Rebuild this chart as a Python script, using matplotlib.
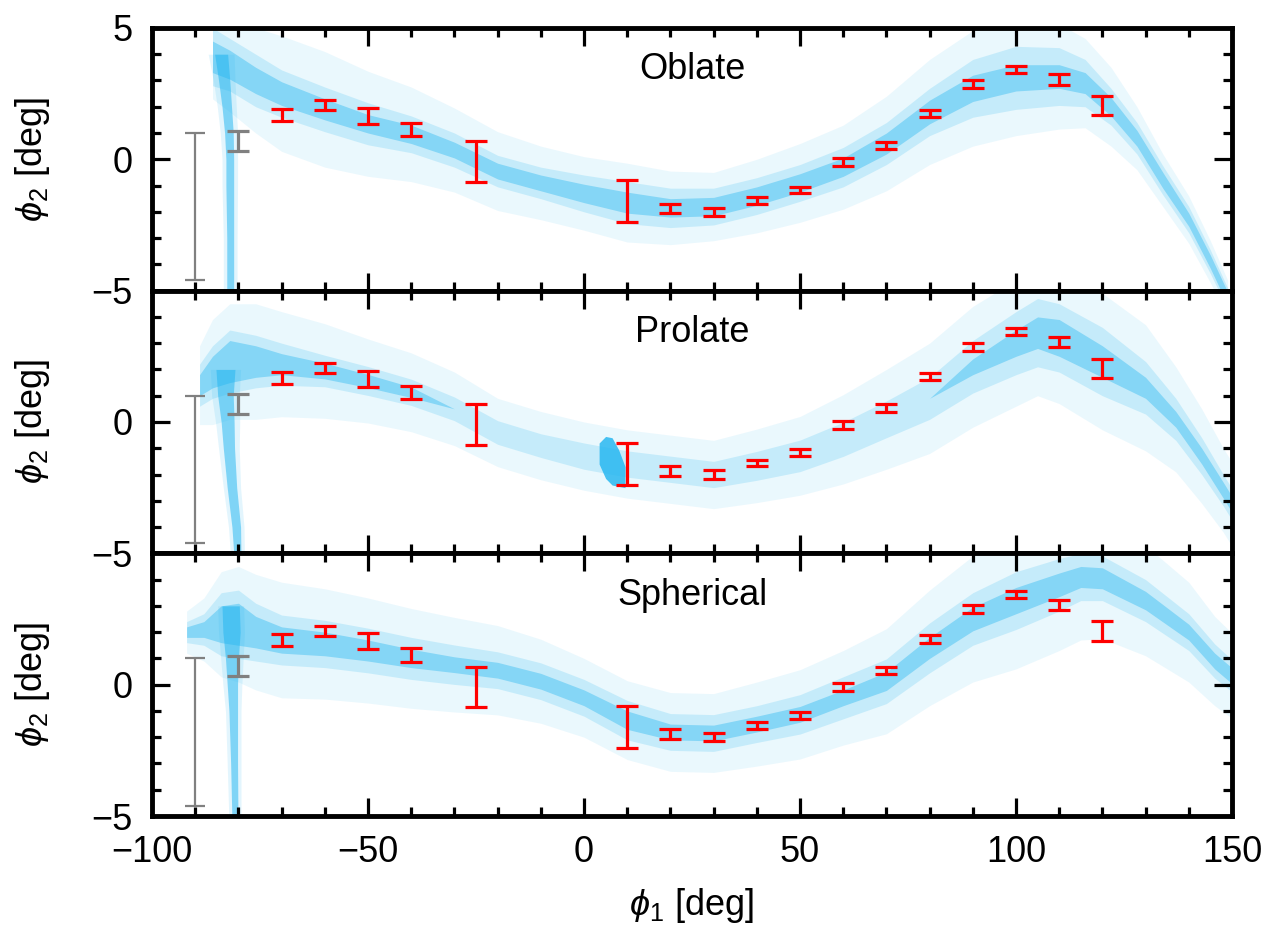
import numpy as np
import matplotlib
matplotlib.use("Agg")
import matplotlib.pyplot as plt

plt.rcParams['font.family'] = ['Liberation Sans', 'DejaVu Sans']
plt.rcParams['mathtext.fontset'] = 'custom'
plt.rcParams['mathtext.rm'] = 'Liberation Sans'
plt.rcParams['mathtext.it'] = 'Liberation Sans:italic'
plt.rcParams['font.size'] = 26

# observed stream track (red) and reference points (grey)
obs_phi1 = [-70, -60, -50, -40, -25, 10, 20, 30, 40, 50, 60, 70, 80, 90, 100, 110, 120]
obs_phi2 = [1.69, 2.05, 1.65, 1.13, -0.09, -1.6, -1.87, -2.0, -1.56, -1.17, -0.1, 0.53, 1.74, 2.87, 3.43, 3.04, 2.04]
obs_err = [0.23, 0.19, 0.3, 0.25, 0.77, 0.8, 0.18, 0.16, 0.13, 0.13, 0.15, 0.14, 0.14, 0.15, 0.13, 0.2, 0.37]
ref_phi1 = [-90, -80]
ref_lo = [-4.6, 0.32]
ref_hi = [1.0, 1.08]

# simulated particle clouds, read as track centre + half widths (core / body / halo)
obl_phi1 = [-86, -82, -76, -70, -60, -50, -40, -30, -20, -10, 0, 10, 20, 30, 40, 50, 60, 70, 80, 90, 100, 110, 116, 122, 128, 134, 140, 145, 149]
obl_mid = [3.9, 3.6, 3.0, 2.5, 1.9, 1.35, 0.95, 0.35, -0.45, -0.9, -1.3, -1.65, -1.85, -1.8, -1.4, -0.9, -0.3, 0.6, 1.8, 2.7, 3.1, 3.15, 2.9, 2.0, 0.8, -0.8, -2.3, -3.9, -5.3]
obl_core = [0.6, 0.55, 0.5, 0.45, 0.4, 0.35, 0.35, 0.3, 0.3, 0.3, 0.35, 0.4, 0.35, 0.35, 0.35, 0.35, 0.35, 0.4, 0.45, 0.5, 0.5, 0.45, 0.4, 0.35, 0.3, 0.3, 0.25, 0.25, 0.25]
obl_body = [1.1, 1.0, 1.0, 0.9, 0.85, 0.8, 0.7, 0.65, 0.6, 0.6, 0.7, 0.8, 0.75, 0.7, 0.7, 0.7, 0.75, 0.8, 0.9, 1.1, 1.2, 1.1, 0.9, 0.7, 0.6, 0.55, 0.5, 0.45, 0.4]
obl_halo = [1.6, 1.8, 2.0, 2.2, 2.2, 2.0, 1.8, 1.6, 1.5, 1.4, 1.4, 1.5, 1.4, 1.3, 1.4, 1.5, 1.6, 1.8, 2.0, 2.2, 2.2, 2.0, 1.7, 1.5, 1.2, 1.0, 0.9, 0.8, 0.7]
obl_br_phi2 = [-5.2, -3, -1, 0, 1, 2, 3, 4]
obl_br_phi1 = [-81.9, -81.9, -82.0, -82.0, -82.2, -82.7, -83.3, -84.0]
obl_br_core = [0.8, 0.8, 0.9, 0.9, 1.0, 1.1, 1.3, 1.5]
obl_br_halo = [1.6, 1.6, 1.8, 1.8, 2.0, 2.2, 2.5, 3.0]

pro_phi1 = [-89, -86, -82, -76, -70, -60, -50, -40, -30, -20, -10, 0, 10, 20, 30, 40, 50, 60, 70, 80, 90, 100, 105, 110, 120, 130, 137, 143, 148, 151]
pro_mid = [1.4, 1.9, 2.3, 2.3, 2.2, 1.94, 1.56, 1.13, 0.5, -0.4, -0.9, -1.3, -1.6, -1.8, -2.0, -1.67, -1.29, -0.66, 0.1, 0.9, 2.1, 3.0, 3.4, 3.2, 2.3, 1.3, 0.1, -1.3, -2.6, -3.4]
pro_core = [0.4, 0.6, 0.8, 0.6, 0.4, 0.3, 0.25, 0.2, 0, 0, 0, 0, 0, 0, 0, 0, 0, 0, 0, 0, 0.3, 0.5, 0.6, 0.7, 0.6, 0.4, 0.3, 0.3, 0.3, 0.3]
pro_body = [0.8, 1.0, 1.2, 1.0, 0.8, 0.6, 0.55, 0.5, 0.45, 0.45, 0.45, 0.5, 0.5, 0.5, 0.5, 0.55, 0.6, 0.65, 0.7, 0.8, 1.0, 1.2, 1.3, 1.3, 1.3, 1.0, 0.8, 0.7, 0.6, 0.6]
pro_halo = [1.5, 2.0, 2.2, 2.2, 2.0, 1.8, 1.6, 1.5, 1.4, 1.3, 1.3, 1.3, 1.3, 1.3, 1.3, 1.4, 1.5, 1.7, 1.9, 2.1, 2.3, 2.4, 2.4, 2.5, 2.6, 2.4, 2.0, 1.8, 1.6, 1.6]
pro_br_phi2 = [-5.2, -4, -2.5, -1, 0, 1, 2]
pro_br_phi1 = [-80.2, -80.5, -81.5, -82.2, -82.5, -83.0, -83.0]
pro_br_core = [0.8, 1.0, 1.1, 1.3, 1.5, 1.8, 2.2]
pro_br_halo = [1.6, 1.8, 2.0, 2.4, 2.8, 3.2, 3.5]
pro_blob_phi1 = [3.5, 5, 6.5, 8, 9.5]
pro_blob_phi2 = [-1.2, -1.35, -1.5, -1.75, -2.1]
pro_blob_hw = [0.4, 0.8, 0.9, 0.7, 0.4]

sph_phi1 = [-92, -88, -84, -80, -76, -70, -60, -50, -40, -30, -20, -10, 0, 10, 20, 30, 40, 50, 60, 70, 80, 90, 100, 110, 115, 120, 130, 140, 146, 151]
sph_mid = [2.0, 2.1, 2.3, 2.3, 2.0, 1.7, 1.55, 1.3, 1.0, 0.76, 0.55, 0.13, -0.5, -1.35, -1.8, -1.84, -1.5, -1.13, -0.5, 0.13, 1.4, 2.5, 3.2, 3.8, 4.1, 4.05, 3.2, 2.0, 0.9, 0.2]
sph_core = [0.2, 0.3, 0.7, 0.8, 0.6, 0.5, 0.45, 0.4, 0.35, 0.3, 0.3, 0.3, 0.3, 0.35, 0.3, 0.3, 0.3, 0.3, 0.3, 0.35, 0.4, 0.45, 0.5, 0.45, 0.4, 0.4, 0.35, 0.3, 0.3, 0.3]
sph_body = [0.4, 0.6, 1.2, 1.3, 1.1, 0.95, 0.9, 0.85, 0.8, 0.75, 0.7, 0.7, 0.7, 0.75, 0.7, 0.7, 0.7, 0.75, 0.8, 0.85, 0.95, 1.0, 1.1, 1.0, 0.9, 0.85, 0.8, 0.7, 0.65, 0.6]
sph_halo = [0.8, 1.2, 2.0, 2.2, 2.2, 2.2, 2.1, 2.0, 1.9, 1.8, 1.7, 1.6, 1.5, 1.5, 1.5, 1.5, 1.6, 1.7, 1.8, 2.0, 2.2, 2.4, 2.6, 2.5, 2.4, 2.3, 2.1, 1.9, 1.7, 1.6]
sph_br_phi2 = [-5.2, -3, -1, 0, 1, 2, 3]
sph_br_phi1 = [-80.8, -81.0, -81.2, -81.4, -81.5, -81.6, -81.8]
sph_br_core = [0.7, 0.8, 1.0, 1.2, 1.5, 2.0, 2.0]
sph_br_halo = [1.4, 1.6, 1.8, 2.2, 2.6, 3.0, 3.0]

names = ['Oblate', 'Prolate', 'Spherical']
cloud = '#1DB4F0'

panels = [
    (obl_phi1, obl_mid, obl_core, obl_body, obl_halo, obl_br_phi2, obl_br_phi1, obl_br_core, obl_br_halo),
    (pro_phi1, pro_mid, pro_core, pro_body, pro_halo, pro_br_phi2, pro_br_phi1, pro_br_core, pro_br_halo),
    (sph_phi1, sph_mid, sph_core, sph_body, sph_halo, sph_br_phi2, sph_br_phi1, sph_br_core, sph_br_halo),
]

fig, axes = plt.subplots(3, 1, figsize=(12.69, 9.31), dpi=100, sharex=True)
fig.subplots_adjust(left=0.1198, right=0.9708, top=0.970, bottom=0.1235, hspace=0)

for i, ax in enumerate(axes):
    x, mid, core, body, halo, by, bx, bcore, bhalo = [np.array(a, dtype=float) for a in panels[i]]
    # stream cloud
    ax.fill_between(x, mid - halo, mid + halo, color=cloud, alpha=0.09, lw=0)
    ax.fill_between(x, mid - body, mid + body, color=cloud, alpha=0.18, lw=0)
    ax.fill_between(x, mid - core, mid + core, color=cloud, alpha=0.38, lw=0)
    # near-vertical branch
    ax.fill_betweenx(by, bx - bhalo, bx + bhalo, color=cloud, alpha=0.12, lw=0)
    ax.fill_betweenx(by, bx - bcore, bx + bcore, color=cloud, alpha=0.5, lw=0)
    if i == 1:
        bp = np.array(pro_blob_phi1)
        bc = np.array(pro_blob_phi2)
        bw = np.array(pro_blob_hw)
        ax.fill_between(bp, bc - bw, bc + bw, color=cloud, alpha=0.8, lw=0)

    # observations
    ax.errorbar(obs_phi1, obs_phi2, yerr=obs_err, fmt='none', ecolor='red',
                elinewidth=2.3, capsize=8, capthick=2.3, zorder=5)
    ax.errorbar(ref_phi1[0], (ref_lo[0] + ref_hi[0]) / 2, yerr=(ref_hi[0] - ref_lo[0]) / 2,
                fmt='none', ecolor='gray', elinewidth=1.6, capsize=7.5, capthick=1.6, zorder=5)
    ax.errorbar(ref_phi1[1], (ref_lo[1] + ref_hi[1]) / 2, yerr=(ref_hi[1] - ref_lo[1]) / 2,
                fmt='none', ecolor='gray', elinewidth=2.3, capsize=8, capthick=2.3, zorder=5)

    ax.text(0.5, 0.84, names[i], transform=ax.transAxes, ha='center', va='center')

    ax.set_xlim(-100, 150)
    ax.set_ylim(-5, 5)
    ax.set_xticks(np.arange(-100, 151, 50))
    ax.set_xticks(np.arange(-100, 151, 10), minor=True)
    ax.set_yticks([-5, 0, 5])
    ax.set_yticks(np.arange(-5, 6, 1), minor=True)
    if i > 0:
        ax.set_yticklabels(['\u22125', '0', ''])
    ax.tick_params(which='both', direction='in', top=True, right=True, width=2.3)
    ax.tick_params(which='major', length=13, pad=14)
    ax.tick_params(which='minor', length=6.5)
    for s in ax.spines.values():
        s.set_linewidth(3.5)
    ax.set_ylabel(r'$\phi_2$ [deg]', labelpad=28)

axes[-1].set_xlabel(r'$\phi_1$ [deg]', labelpad=11)

plt.savefig('out.png')
